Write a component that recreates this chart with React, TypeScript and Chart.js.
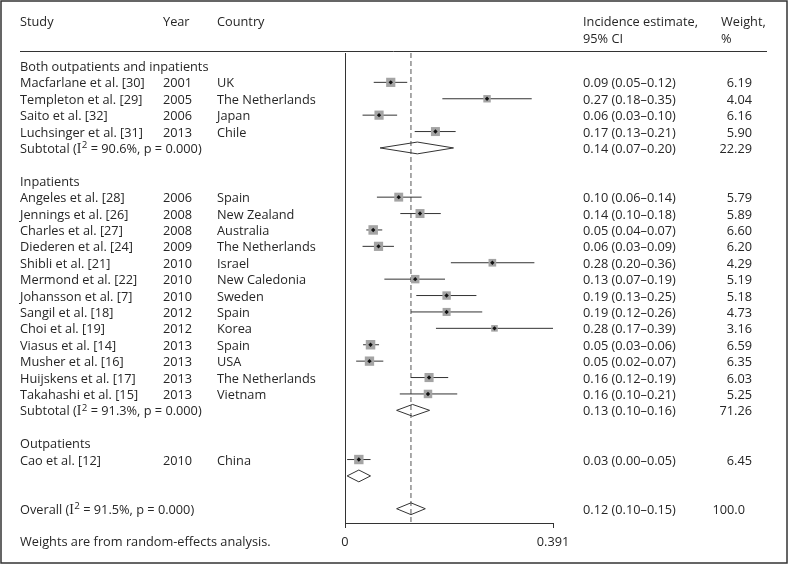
import React, { useEffect, useRef } from 'react';
import { Chart, registerables } from 'chart.js';
Chart.register(...registerables);

// ---------- data ----------
const groupNames = ['Both outpatients and inpatients', 'Inpatients', 'Outpatients'];
const groupSizes = [4, 13, 1];

const studyNames = [
  'Macfarlane et al. [30]', 'Templeton et al. [29]', 'Saito et al. [32]', 'Luchsinger et al. [31]',
  'Angeles et al. [28]', 'Jennings et al. [26]', 'Charles et al. [27]', 'Diederen et al. [24]',
  'Shibli et al. [21]', 'Mermond et al. [22]', 'Johansson et al. [7]', 'Sangil et al. [18]',
  'Choi et al. [19]', 'Viasus et al. [14]', 'Musher et al. [16]', 'Huijskens et al. [17]',
  'Takahashi et al. [15]', 'Cao et al. [12]',
];
const studyYears = ['2001', '2005', '2006', '2013', '2006', '2008', '2008', '2009', '2010', '2010', '2010', '2012', '2012', '2013', '2013', '2013', '2013', '2010'];
const studyCountries = ['UK', 'The Netherlands', 'Japan', 'Chile', 'Spain', 'New Zealand', 'Australia', 'The Netherlands', 'Israel', 'New Caledonia', 'Sweden', 'Spain', 'Korea', 'Spain', 'USA', 'The Netherlands', 'Vietnam', 'China'];
const studyEst = [0.086, 0.267, 0.064, 0.170, 0.101, 0.141, 0.053, 0.063, 0.277, 0.132, 0.191, 0.191, 0.281, 0.048, 0.046, 0.158, 0.156, 0.026];
const studyLo = [0.054, 0.183, 0.033, 0.131, 0.060, 0.104, 0.040, 0.033, 0.199, 0.074, 0.134, 0.124, 0.171, 0.034, 0.021, 0.124, 0.103, 0.004];
const studyHi = [0.117, 0.351, 0.098, 0.208, 0.144, 0.180, 0.070, 0.092, 0.356, 0.188, 0.247, 0.258, 0.391, 0.064, 0.072, 0.194, 0.211, 0.048];
const studyWeights = [6.19, 4.04, 6.16, 5.90, 5.79, 5.89, 6.60, 6.20, 4.29, 5.19, 5.18, 4.73, 3.16, 6.59, 6.35, 6.03, 5.25, 6.45];

const subtotalEst = [0.136, 0.127, 0.026];
const subtotalLo = [0.066, 0.097, 0.004];
const subtotalHi = [0.204, 0.159, 0.048];
const subtotalWeights = [22.29, 71.26, null];
const subtotalI2 = ['90.6', '91.3', null];
const subtotalP = ['0.000', '0.000', null];

const overallEst = 0.124;
const overallLo = 0.097;
const overallHi = 0.151;
const overallI2 = '91.5';
const overallP = '0.000';
const overallWeight = '100.0';

const xTicks = [0, 0.391];
const xLabels = ['0', '0.391'];

// ---------- layout ----------
const FONT = '"Open Sans", sans-serif';
const FS = 12.75;
const TXT = '#262626';
const DY = 1.5;
const COL_STUDY = 20, COL_YEAR = 163, COL_COUNTRY = 217, COL_CI = 583, COL_W = 752;
const ROW_MIN = -0.79, ROW_MAX = 27.87;
const DIAMOND_H = 0.36;

type RowItem = { kind: 'group' | 'study' | 'subtotal' | 'overall'; row: number; idx: number };
const rows: RowItem[] = [];
{
  let r = 0, s = 0;
  groupNames.forEach((_, gi) => {
    rows.push({ kind: 'group', row: r++, idx: gi });
    for (let k = 0; k < groupSizes[gi]; k++) rows.push({ kind: 'study', row: r++, idx: s++ });
    rows.push({ kind: 'subtotal', row: r++, idx: gi });
    r++;
  });
  rows.push({ kind: 'overall', row: r, idx: 0 });
}
const ciText = (e: number, l: number, h: number) => `${e.toFixed(2)} (${l.toFixed(2)}\u2013${h.toFixed(2)})`;

function drawI2(ctx: CanvasRenderingContext2D, x: number, y: number, prefix: string, i2: string, p: string) {
  ctx.font = `${FS}px ${FONT}`;
  ctx.fillText(prefix + ' (', x, y);
  x += ctx.measureText(prefix + ' (').width;
  ctx.font = `${FS + 1}px "Liberation Serif", serif`;
  ctx.fillText('I', x, y);
  x += ctx.measureText('I').width;
  ctx.font = `${FS - 3}px ${FONT}`;
  ctx.fillText('2', x + 0.5, y - 4);
  x += ctx.measureText('2').width + 0.5;
  ctx.font = `${FS}px ${FONT}`;
  ctx.fillText(` = ${i2}%, p = ${p})`, x, y);
}

const textPlugin = {
  id: 'forestText',
  afterDraw(chart: any) {
    const ctx: CanvasRenderingContext2D = chart.ctx;
    const ys = chart.scales.y;
    ctx.save();
    // frame
    ctx.strokeStyle = '#333';
    ctx.lineWidth = 1.5;
    ctx.strokeRect(1, 1, 786, 562);
    // header rule
    ctx.lineWidth = 1;
    ctx.beginPath();
    ctx.moveTo(20, 51.5);
    ctx.lineTo(767, 51.5);
    ctx.stroke();
    ctx.fillStyle = TXT;
    ctx.textBaseline = 'middle';
    ctx.font = `${FS}px ${FONT}`;
    ctx.textAlign = 'left';
    ctx.fillText('Study', COL_STUDY, 21 + DY);
    ctx.fillText('Year', COL_YEAR, 21 + DY);
    ctx.fillText('Country', COL_COUNTRY, 21 + DY);
    ctx.fillText('Incidence estimate,', COL_CI, 21 + DY);
    ctx.fillText('95% CI', COL_CI, 38 + DY);
    ctx.fillText('Weight,', 721, 21 + DY);
    ctx.fillText('%', 721, 38 + DY);
    for (const it of rows) {
      const y = ys.getPixelForValue(it.row) + DY;
      ctx.textAlign = 'left';
      ctx.font = `${FS}px ${FONT}`;
      if (it.kind === 'group') {
        ctx.fillText(groupNames[it.idx], COL_STUDY, y);
      } else if (it.kind === 'study') {
        const i = it.idx;
        ctx.fillText(studyNames[i], COL_STUDY, y);
        ctx.fillText(studyYears[i], COL_YEAR, y);
        ctx.fillText(studyCountries[i], COL_COUNTRY, y);
        ctx.fillText(ciText(studyEst[i], studyLo[i], studyHi[i]), COL_CI, y);
        ctx.textAlign = 'right';
        ctx.fillText(studyWeights[i].toFixed(2), COL_W, y);
      } else if (it.kind === 'subtotal') {
        const g = it.idx;
        if (subtotalI2[g] !== null) {
          drawI2(ctx, COL_STUDY, y, 'Subtotal', subtotalI2[g] as string, subtotalP[g] as string);
          ctx.textAlign = 'left';
          ctx.font = `${FS}px ${FONT}`;
          ctx.fillText(ciText(subtotalEst[g], subtotalLo[g], subtotalHi[g]), COL_CI, y);
          ctx.textAlign = 'right';
          ctx.fillText((subtotalWeights[g] as number).toFixed(2), COL_W, y);
        }
      } else {
        drawI2(ctx, COL_STUDY, y, 'Overall', overallI2, overallP);
        ctx.textAlign = 'left';
        ctx.font = `${FS}px ${FONT}`;
        ctx.fillText(ciText(overallEst, overallLo, overallHi), COL_CI, y);
        ctx.textAlign = 'right';
        ctx.fillText(overallWeight, COL_W - 7, y);
      }
    }
    ctx.textAlign = 'left';
    ctx.font = `${FS}px ${FONT}`;
    ctx.fillText('Weights are from random-effects analysis.', COL_STUDY, 541 + DY);
    ctx.restore();
  },
};

export default function App() {
  const ref = useRef<HTMLCanvasElement>(null);
  useEffect(() => {
    document.body.style.margin = '0';
    const datasets: any[] = [];
    const studyRows = rows.filter(r => r.kind === 'study');
    // marker dots
    datasets.push({
      type: 'scatter', order: 0,
      data: studyRows.map(r => ({ x: studyEst[r.idx], y: r.row })),
      pointStyle: 'rectRot', pointRadius: 2.2, backgroundColor: '#111', borderWidth: 0,
    });
    // weight squares
    datasets.push({
      type: 'scatter', order: 1,
      data: studyRows.map(r => ({ x: studyEst[r.idx], y: r.row })),
      pointStyle: 'rect',
      pointRadius: (c: any) => (3.7 * Math.sqrt(studyWeights[studyRows[c.dataIndex].idx])) / Math.SQRT2,
      backgroundColor: '#a4a4a4', borderWidth: 0,
    });
    // CI lines
    for (const r of studyRows) {
      datasets.push({
        type: 'scatter', order: 2, showLine: true,
        data: [{ x: studyLo[r.idx], y: r.row }, { x: studyHi[r.idx], y: r.row }],
        borderColor: '#333', borderWidth: 1, pointRadius: 0,
      });
    }
    // diamonds
    const diamond = (e: number, l: number, h: number, row: number) => ({
      type: 'scatter', order: 2, showLine: true,
      data: [{ x: l, y: row }, { x: e, y: row - DIAMOND_H }, { x: h, y: row }, { x: e, y: row + DIAMOND_H }, { x: l, y: row }],
      borderColor: '#333', borderWidth: 1, pointRadius: 0, tension: 0,
    });
    for (const r of rows) {
      if (r.kind === 'subtotal') datasets.push(diamond(subtotalEst[r.idx], subtotalLo[r.idx], subtotalHi[r.idx], r.row));
      if (r.kind === 'overall') datasets.push(diamond(overallEst, overallLo, overallHi, r.row));
    }
    // reference line at overall estimate
    datasets.push({
      type: 'scatter', order: 5, showLine: true,
      data: [{ x: overallEst, y: ROW_MIN }, { x: overallEst, y: ROW_MAX }],
      borderColor: '#555', borderWidth: 1, borderDash: [5, 3], pointRadius: 0,
    });

    const chart = new Chart(ref.current!, {
      type: 'scatter',
      data: { datasets },
      plugins: [textPlugin],
      options: {
        responsive: false,
        animation: false,
        events: [],
        layout: { padding: { left: 345, right: 235, top: 53, bottom: 0 } },
        plugins: { legend: { display: false }, tooltip: { enabled: false } },
        scales: {
          x: {
            type: 'linear', min: xTicks[0], max: xTicks[xTicks.length - 1],
            afterBuildTicks: (s: any) => { s.ticks = xTicks.map(v => ({ value: v })); },
            afterFit: (s: any) => { s.height = 41; },
            ticks: {
              autoSkip: false, maxRotation: 0, padding: 7,
              color: TXT, font: { family: FONT, size: FS },
              callback: (v: any) => xLabels[xTicks.indexOf(Number(v))] ?? '',
            },
            grid: {
              drawOnChartArea: true, drawTicks: true, tickLength: 5,
              color: (c: any) => (c.tick && c.tick.value === 0 ? '#333' : 'rgba(0,0,0,0)'),
              tickColor: '#333', lineWidth: 1,
            },
            border: { display: true, color: '#333', width: 1 },
          },
          y: { type: 'linear', display: false, reverse: true, min: ROW_MIN, max: ROW_MAX },
        },
      } as any,
    });
    return () => chart.destroy();
  }, []);
  return (
    <div style={{ width: 788, height: 564 }}>
      <canvas ref={ref} width={788} height={564} style={{ display: 'block' }} />
    </div>
  );
}
